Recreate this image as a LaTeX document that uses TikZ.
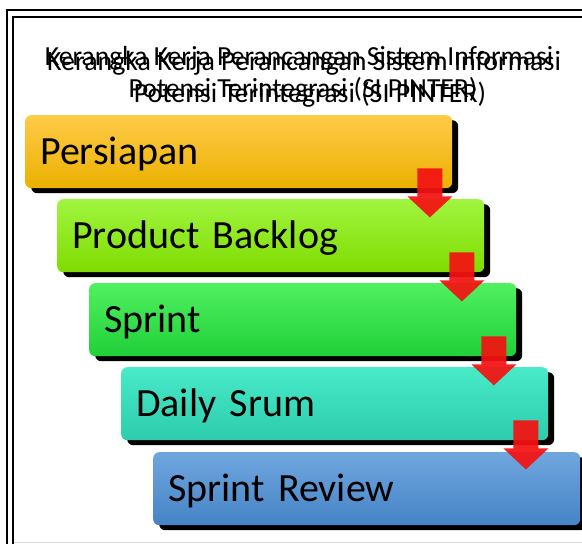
\documentclass[tikz,border=0pt]{standalone}
\usepackage{fontspec}
\setmainfont{Carlito}
\usetikzlibrary{calc,shadows}
\definecolor{o1}{HTML}{FFCB48}\definecolor{o2}{HTML}{FFC000}\definecolor{o3}{HTML}{EBB000}
\definecolor{g1}{HTML}{A0F540}\definecolor{g2}{HTML}{8EEE10}\definecolor{g3}{HTML}{80DC00}
\definecolor{s1}{HTML}{50F060}\definecolor{s2}{HTML}{30E448}\definecolor{s3}{HTML}{20D038}
\definecolor{t1}{HTML}{48EAC8}\definecolor{t2}{HTML}{3CE0C0}\definecolor{t3}{HTML}{2CCCAC}
\definecolor{b1c}{HTML}{6FA6DE}\definecolor{b2c}{HTML}{5A96D6}\definecolor{b3c}{HTML}{4684C6}
\definecolor{arrred}{HTML}{F41212}
\begin{document}
\begin{tikzpicture}[x=1pt,y=-1pt,
  stepbox/.style={anchor=north west, rounded corners=6pt, minimum height=73pt,
    text width=397pt, inner xsep=15pt, align=left, text height=30pt, text depth=5pt,
    font=\fontsize{40}{44}\selectfont,
    general shadow={fill=black, shadow xshift=6pt, shadow yshift=-5pt}},
  titleA/.style={anchor=base, font=\fontsize{27.6}{30}\selectfont},
  titleB/.style={anchor=base, font=\fontsize{27.9}{30}\selectfont},
  downarrow/.style={fill=arrred, fill opacity=0.93},
  frameline/.style={line width=2pt, black}]
\useasboundingbox (0,0) rectangle (582,544);
\clip (0,0) rectangle (582,544);
\fill[white] (0,0) rectangle (582,544);
% frame
\draw[frameline] (7,560) -- (7,10) -- (600,10);
\draw[frameline] (13,560) -- (13,17) -- (600,17);
\draw[gray!30, line width=1pt] (14,542) -- (600,542);
% title (two overlapping copies)
\node[titleA] (ta1) at (299,65) {Kerangka Kerja Perancangan Sistem Informasi};
\node[titleA] (ta2) at (303,97) {Potensi Terintegrasi (SI PINTER)};
\node[titleB] (tb1) at (304,70) {Kerangka Kerja Perancangan Sistem Informasi};
\node[titleB] (tb2) at (310,102) {Potensi Terintegrasi (SI PINTER)};
% boxes
\node[stepbox, top color=o1, middle color=o2, bottom color=o3] (p1) at (25,115) {Persiapan};
\node[stepbox, top color=g1, middle color=g2, bottom color=g3] (p2) at (57,199) {Product Backlog};
\node[stepbox, top color=s1, middle color=s2, bottom color=s3] (p3) at (89,283) {Sprint};
\node[stepbox, top color=t1, middle color=t2, bottom color=t3] (p4) at (121,367) {Daily Srum};
\node[stepbox, top color=b1c, middle color=b2c, bottom color=b3c] (p5) at (153,452) {Sprint Review};
% arrows
\foreach \n in {p1,p2,p3,p4}{
  \fill[downarrow] ($(\n.south east)+(-35,-20)$) -- ($(\n.south east)+(-10,-20)$)
    -- ($(\n.south east)+(-10,8)$) -- ($(\n.south east)+(0,8)$)
    -- ($(\n.south east)+(-22.5,29)$) -- ($(\n.south east)+(-45,8)$)
    -- ($(\n.south east)+(-35,8)$) -- cycle;
}
\end{tikzpicture}
\end{document}
